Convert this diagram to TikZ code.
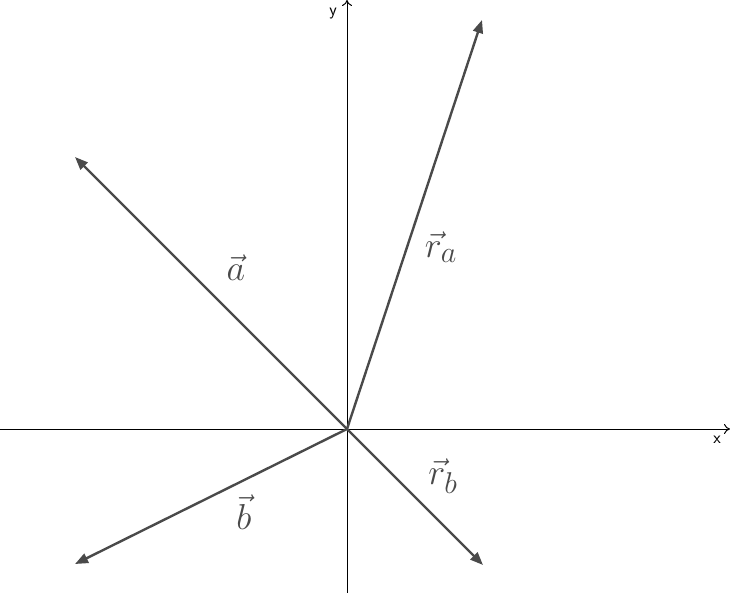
\documentclass[tikz,border=0pt]{standalone}
\usetikzlibrary{arrows.meta}
\definecolor{vecgray}{HTML}{4A4A4A}
\begin{document}
\begin{tikzpicture}[x=1pt,y=-1pt,
  axis/.style={draw=black,line width=1pt,-{To[length=6pt,width=10pt]}},
  vecline/.style={draw=vecgray,line width=2.4pt,-{Triangle[length=13pt,width=10pt]}},
  vlabel/.style={text=vecgray,font=\Huge,scale=1.45,inner sep=0pt},
  alabel/.style={font=\sffamily\LARGE,inner sep=0pt}]
\useasboundingbox (0,0) rectangle (730,593);
\coordinate (O) at (347,429);
\coordinate (xs) at (0,429);
\coordinate (xe) at (730,429);
\coordinate (ys) at (347,593);
\coordinate (ye) at (347,0);
\coordinate (ra) at (482,20);
\coordinate (a) at (75,157);
\coordinate (b) at (75,564);
\coordinate (rb) at (483,565);
\draw[axis] (xs) -- (xe);
\draw[axis] (ys) -- (ye);
\node[alabel] (xl) at (717,440) {x};
\node[alabel] (yl) at (333,14) {y};
\draw[vecline] (O) -- (ra);
\draw[vecline] (O) -- (a);
\draw[vecline] (O) -- (b);
\draw[vecline] (O) -- (rb);
\node[vlabel] (la) at (236,268) {$\vec{a}$};
\node[vlabel] (lra) at (441,247) {$\vec{r}_a$};
\node[vlabel] (lrb) at (443,476) {$\vec{r}_b$};
\node[vlabel] (lb) at (244,512) {$\vec{b}$};
\end{tikzpicture}
\end{document}
